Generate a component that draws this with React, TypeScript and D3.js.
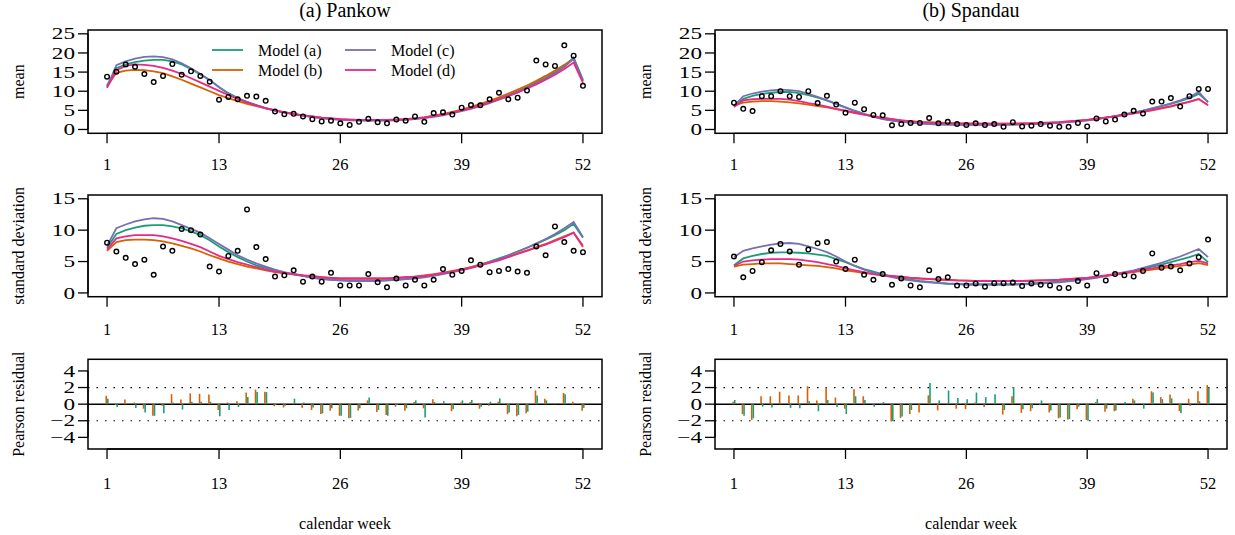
import React from 'react';
import * as d3 from 'd3';

// calendar weeks 1..52 and axis labels
const weeks = d3.range(1, 53);
const weekTicks = [1, 13, 26, 39, 52];
const meanTicks = [0, 5, 10, 15, 20, 25];
const sdTicks = [0, 5, 10, 15];
const resTicks = [-4, -2, 0, 2, 4];
const modelNames = ['Model (a)', 'Model (b)', 'Model (c)', 'Model (d)'];
const modelColors = ['#1B9E77', '#D95F02', '#7570B3', '#E7298A'];

// (a) Pankow
const pankowMeanObs = [13.8, 15.1, 17.0, 16.4, 14.5, 12.4, 14.0, 17.1, 14.3, 15.2, 14.0, 12.5,
  7.8, 8.5, 7.9, 8.8, 8.6, 7.5, 4.7, 4.0, 4.1, 3.4, 2.7, 2.1,
  2.3, 1.6, 1.2, 2.0, 2.8, 1.9, 1.6, 2.6, 2.3, 3.4, 2.0, 4.3,
  4.5, 3.9, 5.7, 6.4, 6.3, 7.9, 9.6, 7.9, 8.3, 10.2, 18.0, 17.0,
  16.6, 22.0, 19.3, 11.4];
const pankowMeanA = [11.5, 16.0, 17.0, 17.6, 18.0, 18.2, 18.2, 17.8, 17.0, 15.8, 14.4, 12.9,
  11.1, 9.5, 8.2, 7.2, 6.4, 5.6, 5.0, 4.5, 4.0, 3.6, 3.3, 3.0,
  2.8, 2.6, 2.5, 2.4, 2.4, 2.4, 2.4, 2.5, 2.6, 2.8, 3.1, 3.5,
  3.9, 4.4, 5.0, 5.7, 6.4, 7.2, 8.1, 9.0, 10.0, 11.1, 12.3, 13.6,
  15.0, 16.6, 18.8, 13.0];
const pankowMeanB = [11.3, 14.8, 15.4, 15.6, 15.5, 15.2, 14.7, 13.9, 13.0, 12.0, 11.0, 10.0,
  9.0, 8.2, 7.4, 6.7, 6.1, 5.5, 5.0, 4.5, 4.1, 3.7, 3.4, 3.1,
  2.9, 2.7, 2.6, 2.5, 2.5, 2.5, 2.5, 2.6, 2.7, 2.9, 3.2, 3.6,
  4.1, 4.6, 5.2, 5.9, 6.7, 7.5, 8.4, 9.4, 10.4, 11.5, 12.7, 14.0,
  15.4, 16.9, 18.4, 12.6];
const pankowMeanC = [11.0, 16.8, 17.8, 18.5, 19.0, 19.1, 18.9, 18.3, 17.3, 16.0, 14.5, 12.9,
  11.0, 9.4, 8.1, 7.1, 6.3, 5.5, 4.9, 4.4, 4.0, 3.6, 3.2, 2.9,
  2.7, 2.5, 2.4, 2.3, 2.3, 2.3, 2.3, 2.4, 2.5, 2.7, 3.0, 3.3,
  3.7, 4.2, 4.8, 5.4, 6.1, 6.9, 7.8, 8.7, 9.7, 10.8, 12.0, 13.3,
  14.7, 16.3, 18.5, 12.8];
const pankowMeanD = [10.9, 15.5, 16.6, 17.0, 16.9, 16.6, 16.1, 15.4, 14.5, 13.4, 12.3, 11.2,
  10.1, 9.0, 8.0, 7.1, 6.3, 5.6, 5.0, 4.5, 4.1, 3.7, 3.4, 3.1,
  2.9, 2.7, 2.6, 2.5, 2.5, 2.5, 2.5, 2.6, 2.7, 2.9, 3.1, 3.5,
  3.9, 4.4, 5.0, 5.6, 6.3, 7.1, 7.9, 8.8, 9.7, 10.7, 11.8, 13.0,
  14.3, 15.8, 17.5, 12.2];
const pankowSdObs = [8.0, 6.6, 5.6, 4.6, 5.3, 2.9, 7.4, 6.7, 10.2, 10.0, 9.3, 4.2,
  3.4, 5.9, 6.7, 13.3, 7.3, 5.4, 2.6, 2.8, 3.6, 1.8, 2.6, 1.8,
  3.2, 1.2, 1.2, 1.2, 3.0, 1.7, 0.9, 2.3, 1.2, 2.1, 1.2, 2.1,
  3.8, 2.9, 3.5, 5.2, 4.5, 3.3, 3.5, 3.8, 3.4, 3.2, 7.4, 6.0,
  10.6, 8.1, 6.7, 6.5];
const pankowSdA = [7.2, 9.4, 10.0, 10.4, 10.7, 10.8, 10.8, 10.6, 10.3, 9.8, 9.2, 8.4,
  7.4, 6.5, 5.7, 5.0, 4.4, 4.0, 3.6, 3.2, 2.9, 2.7, 2.4, 2.3,
  2.1, 2.0, 2.0, 2.0, 2.0, 2.0, 2.0, 2.1, 2.2, 2.4, 2.6, 2.8,
  3.1, 3.4, 3.7, 4.1, 4.5, 5.0, 5.5, 6.0, 6.6, 7.2, 7.8, 8.5,
  9.2, 10.0, 11.0, 8.8];
const pankowSdB = [6.7, 8.1, 8.4, 8.5, 8.5, 8.4, 8.2, 7.9, 7.5, 7.1, 6.6, 6.0,
  5.5, 5.0, 4.6, 4.2, 3.9, 3.6, 3.3, 3.1, 3.0, 2.8, 2.6, 2.5,
  2.4, 2.3, 2.3, 2.3, 2.3, 2.3, 2.3, 2.4, 2.5, 2.6, 2.8, 3.0,
  3.2, 3.5, 3.8, 4.1, 4.5, 4.9, 5.3, 5.8, 6.3, 6.8, 7.3, 7.8,
  8.4, 9.0, 9.6, 7.3];
const pankowSdC = [7.5, 10.3, 10.9, 11.4, 11.7, 11.9, 11.8, 11.4, 10.8, 10.2, 9.6, 8.7,
  7.8, 6.9, 6.0, 5.3, 4.7, 4.2, 3.7, 3.3, 3.0, 2.7, 2.4, 2.2,
  2.1, 2.0, 1.9, 1.9, 1.9, 1.9, 2.0, 2.1, 2.2, 2.3, 2.5, 2.7,
  3.0, 3.3, 3.6, 4.0, 4.4, 4.9, 5.4, 6.0, 6.6, 7.2, 7.9, 8.6,
  9.4, 10.3, 11.3, 8.9];
const pankowSdD = [6.9, 8.7, 9.0, 9.2, 9.2, 9.2, 9.0, 8.7, 8.3, 7.8, 7.3, 6.6,
  5.9, 5.4, 4.9, 4.5, 4.1, 3.7, 3.4, 3.2, 3.0, 2.8, 2.7, 2.5,
  2.4, 2.3, 2.3, 2.3, 2.3, 2.3, 2.3, 2.4, 2.5, 2.6, 2.7, 2.9,
  3.2, 3.4, 3.7, 4.0, 4.4, 4.8, 5.2, 5.7, 6.2, 6.7, 7.2, 7.7,
  8.3, 8.9, 9.6, 7.5];
const pankowResA = [0.65, -0.35, 0.05, -0.45, -1.0, -1.4, -1.1, 0.2, -0.65, 0.3, 0.3, 0.3,
  -1.45, -0.7, -0.35, 0.85, 1.45, 1.45, -0.1, -0.2, 0.65, 0.2, -0.4, -1.1,
  -0.5, -1.4, -1.65, -0.5, 0.8, -0.7, -1.4, -0.1, -0.5, 0.45, -1.6, 0.25,
  0.35, -0.6, 0.45, 0.5, -0.3, 0.3, 0.7, -1.0, -1.3, -0.9, 1.05, 0.45,
  0.05, 1.2, 0.05, -0.45];
const pankowResB = [1.0, -0.1, 0.55, 0.2, -0.55, -1.4, -0.2, 1.2, 0.55, 1.3, 1.25, 1.15,
  -0.7, 0.2, 0.35, 1.4, 1.75, 1.5, -0.25, -0.4, 0.1, -0.45, -0.7, -1.2,
  -0.8, -1.4, -1.7, -0.75, 0.45, -0.95, -1.3, -0.3, -0.8, 0.25, -0.5, 0.6,
  0.15, -0.85, 0.2, 0.25, -0.55, -0.2, 0.3, -1.2, -1.45, -1.1, 1.65, 0.65,
  0.1, 1.35, 0.3, -0.8];

// (b) Spandau
const spandauMeanObs = [7.0, 5.4, 4.8, 8.7, 8.7, 10.0, 8.7, 8.5, 10.0, 6.9, 8.8, 6.5,
  4.4, 7.0, 5.3, 3.8, 3.7, 1.1, 1.4, 1.7, 1.7, 3.0, 1.6, 2.0,
  1.4, 1.2, 1.6, 1.2, 1.4, 0.7, 1.9, 0.8, 1.0, 1.4, 1.0, 0.7,
  0.7, 1.7, 0.8, 2.9, 2.1, 2.6, 3.9, 4.9, 4.2, 7.3, 7.3, 8.2,
  6.0, 8.7, 10.6, 10.6];
const spandauMeanA = [6.0, 8.0, 8.8, 9.3, 9.6, 9.8, 9.8, 9.5, 9.0, 8.3, 7.6, 6.7,
  5.8, 4.9, 4.1, 3.4, 2.8, 2.4, 2.1, 1.8, 1.6, 1.5, 1.4, 1.3,
  1.3, 1.3, 1.3, 1.3, 1.3, 1.3, 1.3, 1.4, 1.4, 1.5, 1.6, 1.8,
  2.0, 2.2, 2.4, 2.8, 3.1, 3.5, 4.0, 4.4, 4.9, 5.5, 6.1, 6.7,
  7.4, 8.2, 9.3, 7.2];
const spandauMeanB = [6.2, 7.0, 7.3, 7.4, 7.4, 7.3, 7.1, 6.8, 6.5, 6.1, 5.8, 5.3,
  4.8, 4.3, 3.9, 3.5, 3.1, 2.7, 2.4, 2.2, 2.0, 1.9, 1.8, 1.7,
  1.6, 1.6, 1.5, 1.5, 1.5, 1.5, 1.5, 1.6, 1.6, 1.7, 1.8, 1.9,
  2.1, 2.3, 2.5, 2.8, 3.1, 3.4, 3.8, 4.2, 4.6, 5.0, 5.5, 6.0,
  6.6, 7.2, 7.9, 6.4];
const spandauMeanC = [6.2, 8.7, 9.4, 9.9, 10.2, 10.4, 10.3, 10.0, 9.3, 8.5, 7.6, 6.7,
  5.7, 4.8, 4.0, 3.3, 2.7, 2.3, 2.0, 1.8, 1.6, 1.4, 1.3, 1.3,
  1.2, 1.2, 1.2, 1.2, 1.2, 1.2, 1.3, 1.3, 1.4, 1.5, 1.6, 1.7,
  1.9, 2.1, 2.4, 2.7, 3.1, 3.5, 3.9, 4.4, 4.9, 5.5, 6.1, 6.8,
  7.6, 8.5, 9.8, 7.1];
const spandauMeanD = [5.9, 7.6, 7.9, 8.0, 8.0, 8.0, 7.8, 7.4, 6.9, 6.5, 6.0, 5.4,
  4.9, 4.4, 3.9, 3.4, 3.0, 2.7, 2.4, 2.1, 1.9, 1.8, 1.7, 1.6,
  1.6, 1.5, 1.5, 1.5, 1.5, 1.5, 1.5, 1.6, 1.6, 1.7, 1.8, 1.9,
  2.1, 2.3, 2.5, 2.8, 3.1, 3.4, 3.8, 4.2, 4.6, 5.1, 5.6, 6.1,
  6.7, 7.3, 8.0, 6.3];
const spandauSdObs = [5.8, 2.5, 3.5, 4.9, 6.8, 7.8, 6.6, 4.5, 6.9, 7.9, 8.1, 5.0,
  3.8, 5.3, 2.9, 2.1, 3.0, 1.3, 2.3, 1.2, 0.9, 3.6, 2.2, 2.5,
  1.2, 1.2, 1.5, 1.0, 1.55, 1.55, 1.65, 1.1, 1.5, 1.3, 1.2, 0.8,
  0.8, 1.9, 1.2, 3.15, 2.0, 3.0, 2.8, 2.6, 3.5, 6.3, 4.0, 4.2,
  3.6, 4.7, 5.7, 8.5];
const spandauSdA = [4.4, 5.5, 5.9, 6.2, 6.4, 6.45, 6.45, 6.4, 6.3, 6.1, 5.9, 5.4,
  4.9, 4.3, 3.8, 3.4, 3.0, 2.6, 2.3, 2.1, 1.9, 1.75, 1.6, 1.5,
  1.45, 1.4, 1.4, 1.4, 1.4, 1.4, 1.4, 1.45, 1.5, 1.6, 1.7, 1.8,
  1.95, 2.1, 2.3, 2.5, 2.7, 3.0, 3.2, 3.5, 3.8, 4.2, 4.5, 4.9,
  5.3, 5.7, 6.2, 4.9];
const spandauSdB = [4.2, 4.5, 4.6, 4.7, 4.7, 4.7, 4.6, 4.5, 4.4, 4.3, 4.1, 3.9,
  3.6, 3.4, 3.15, 3.0, 2.8, 2.65, 2.5, 2.4, 2.3, 2.2, 2.1, 2.05,
  2.0, 1.95, 1.9, 1.9, 1.9, 1.9, 1.9, 1.9, 1.95, 2.0, 2.05, 2.1,
  2.2, 2.3, 2.4, 2.55, 2.7, 2.9, 3.1, 3.3, 3.5, 3.7, 3.9, 4.1,
  4.3, 4.5, 4.75, 4.45];
const spandauSdC = [5.7, 6.7, 7.1, 7.4, 7.7, 7.9, 7.95, 7.8, 7.4, 7.0, 6.5, 5.8,
  5.0, 4.3, 3.7, 3.2, 2.8, 2.5, 2.2, 2.0, 1.8, 1.7, 1.55, 1.45,
  1.4, 1.3, 1.3, 1.3, 1.3, 1.3, 1.3, 1.35, 1.4, 1.5, 1.6, 1.7,
  1.85, 2.0, 2.2, 2.4, 2.7, 3.0, 3.3, 3.6, 4.0, 4.4, 4.8, 5.3,
  5.8, 6.4, 7.0, 5.7];
const spandauSdD = [4.3, 5.0, 5.2, 5.3, 5.4, 5.4, 5.4, 5.3, 5.1, 4.9, 4.6, 4.3,
  3.9, 3.6, 3.3, 3.0, 2.8, 2.7, 2.6, 2.4, 2.3, 2.25, 2.2, 2.1,
  2.0, 1.95, 1.9, 1.9, 1.9, 1.9, 1.9, 1.9, 1.95, 2.0, 2.05, 2.1,
  2.2, 2.3, 2.4, 2.6, 2.8, 3.0, 3.2, 3.4, 3.7, 3.9, 4.2, 4.4,
  4.6, 4.9, 5.1, 4.7];
const spandauResA = [0.5, -1.4, -1.7, -0.3, -0.4, 0.1, -0.45, -0.5, 0.35, -0.85, 0.5, -0.35,
  -1.2, 0.95, 0.5, -0.3, 0.25, -2.05, -1.5, -0.7, 0.05, 2.55, 0.45, 1.65,
  0.75, 0.6, 1.4, 0.85, 1.2, -0.7, 2.05, -0.6, -0.5, 0.45, -0.75, -1.6,
  -1.8, -0.3, -2.0, 0.6, -0.55, -0.75, 0.25, 0.45, -0.55, 1.4, 0.6, 0.7,
  -1.1, -0.2, 0.35, 2.0];
const spandauResB = [0.3, -1.2, -1.9, 0.95, 0.95, 1.5, 1.05, 1.05, 2.15, 0.45, 2.0, 0.8,
  -0.55, 1.8, 0.95, -0.05, 0.1, -2.1, -1.65, -1.2, -1.0, 1.05, -0.75, 0.1,
  -0.55, -0.6, 0.2, -0.35, 0.1, -1.25, 0.95, -1.05, -0.85, -0.1, -1.0, -1.7,
  -1.85, -0.6, -1.9, 0.25, -0.9, -0.85, 0.05, 0.65, 0.0, 1.55, 0.85, 1.15,
  -0.85, 0.65, 1.55, 2.3];

const FONT = '"Liberation Serif", "Times New Roman", serif';
const W = 1235;
const H = 535;

// rows: top of box, bottom of box
const rows = {
  mean: { top: 30, bottom: 133.3 },
  sd: { top: 195, bottom: 296.7 },
  res: { top: 359.3, bottom: 449 },
};

const fmt = (v: number) => (v < 0 ? '\u2212' + Math.abs(v) : String(v));

interface PanelProps {
  left: number;
  right: number;
  title: string;
  meanObs: number[];
  meanModels: number[][];
  sdObs: number[];
  sdModels: number[][];
  resA: number[];
  resB: number[];
  legend?: boolean;
}

const YAxis: React.FC<{ x: number; y: d3.ScaleLinear<number, number>; ticks: number[]; label: string }> = ({ x, y, ticks, label }) => {
  const [r0, r1] = y.range();
  const from = y(ticks[0]);
  const to = y(ticks[ticks.length - 1]);
  return (
    <g>
      <line x1={x} x2={x} y1={from} y2={to} stroke="#000" strokeWidth={1.3} />
      {ticks.map(t => (
        <g key={t}>
          <line x1={x - 10} x2={x} y1={y(t)} y2={y(t)} stroke="#000" strokeWidth={1.3} />
          {/* tick labels in the original are drawn wide */}
          <text transform={`translate(${x - 13},${y(t)}) scale(1.45,1)`} textAnchor="end" dominantBaseline="central" fontSize={16}>{fmt(t)}</text>
        </g>
      ))}
      <text transform={`translate(${x - 70},${(r0 + r1) / 2}) rotate(-90)`} textAnchor="middle" dominantBaseline="central" fontSize={16}>{label}</text>
    </g>
  );
};

const XAxis: React.FC<{ x: d3.ScaleLinear<number, number>; y: number; labelGap: number }> = ({ x, y, labelGap }) => (
  <g>
    <line x1={x(weekTicks[0])} x2={x(weekTicks[weekTicks.length - 1])} y1={y} y2={y} stroke="#000" strokeWidth={1.3} />
    {weekTicks.map(t => (
      <g key={t}>
        <line x1={x(t)} x2={x(t)} y1={y} y2={y + 10} stroke="#000" strokeWidth={1.3} />
        <text x={x(t)} y={y + labelGap} textAnchor="middle" fontSize={16.5}>{t}</text>
      </g>
    ))}
  </g>
);

const Panel: React.FC<PanelProps> = ({ left, right, title, meanObs, meanModels, sdObs, sdModels, resA, resB, legend }) => {
  const x = d3.scaleLinear().domain([1 - 51 * 0.04, 52 + 51 * 0.04]).range([left, right]);
  const yMean = d3.scaleLinear().domain([-1, 26]).range([rows.mean.bottom, rows.mean.top]);
  const ySd = d3.scaleLinear().domain([-0.6, 15.6]).range([rows.sd.bottom, rows.sd.top]);
  const yRes = d3.scaleLinear().domain([-5.4, 5.4]).range([rows.res.bottom, rows.res.top]);

  const lineOf = (y: d3.ScaleLinear<number, number>) =>
    d3.line<number>().x((_, i) => x(weeks[i])).y(v => y(v));

  const box = (r: { top: number; bottom: number }) => (
    <rect x={left} y={r.top} width={right - left} height={r.bottom - r.top} fill="none" stroke="#000" strokeWidth={1.5} />
  );

  const cx = (left + right) / 2;

  return (
    <g>
      <text x={cx} y={17} textAnchor="middle" fontSize={20}>{title}</text>

      {/* mean */}
      {meanModels.map((m, k) => (
        <path key={k} d={lineOf(yMean)(m) || ''} fill="none" stroke={modelColors[k]} strokeWidth={1.8} />
      ))}
      {meanObs.map((v, i) => (
        <circle key={i} cx={x(weeks[i])} cy={yMean(v)} r={2.3} fill="none" stroke="#000" strokeWidth={1.4} />
      ))}
      {box(rows.mean)}
      <YAxis x={left} y={yMean} ticks={meanTicks} label="mean" />
      <XAxis x={x} y={rows.mean.bottom} labelGap={37} />
      {legend && (
        <g fontSize={16}>
          {modelNames.map((name, k) => {
            const col = Math.floor(k / 2);
            const row = k % 2;
            const lx = left + 124 + col * 133;
            const ly = 50 + row * 20;
            return (
              <g key={name}>
                <line x1={lx} x2={lx + 31} y1={ly} y2={ly} stroke={modelColors[k]} strokeWidth={1.8} />
                <text x={lx + 46} y={ly} dominantBaseline="central">{name}</text>
              </g>
            );
          })}
        </g>
      )}

      {/* standard deviation */}
      {sdModels.map((m, k) => (
        <path key={k} d={lineOf(ySd)(m) || ''} fill="none" stroke={modelColors[k]} strokeWidth={1.8} />
      ))}
      {sdObs.map((v, i) => (
        <circle key={i} cx={x(weeks[i])} cy={ySd(v)} r={2.3} fill="none" stroke="#000" strokeWidth={1.4} />
      ))}
      {box(rows.sd)}
      <YAxis x={left} y={ySd} ticks={sdTicks} label="standard deviation" />
      <XAxis x={x} y={rows.sd.bottom} labelGap={38} />

      {/* Pearson residuals */}
      {[-2, 2].map(v => (
        <line key={v} x1={left} x2={right} y1={yRes(v)} y2={yRes(v)} stroke="#000" strokeWidth={1.2} strokeDasharray="1.5,7" />
      ))}
      <line x1={left} x2={right} y1={yRes(0)} y2={yRes(0)} stroke="#000" strokeWidth={1.5} />
      {weeks.map((w, i) => (
        <g key={w}>
          <line x1={x(w) - 0.8} x2={x(w) - 0.8} y1={yRes(0)} y2={yRes(resB[i])} stroke={modelColors[1]} strokeWidth={1.6} />
          <line x1={x(w) + 0.8} x2={x(w) + 0.8} y1={yRes(0)} y2={yRes(resA[i])} stroke={modelColors[0]} strokeWidth={1.6} />
        </g>
      ))}
      {box(rows.res)}
      <YAxis x={left} y={yRes} ticks={resTicks} label="Pearson residual" />
      <XAxis x={x} y={rows.res.bottom} labelGap={40} />

      <text x={cx} y={529} textAnchor="middle" fontSize={16}>calendar week</text>
    </g>
  );
};

export default function App() {
  return (
    <svg width={W} height={H} style={{ position: 'absolute', left: 0, top: 0, background: '#fff' }} fontFamily={FONT}>
      <rect width={W} height={H} fill="#fff" />
      <Panel
        left={88}
        right={602}
        title="(a) Pankow"
        meanObs={pankowMeanObs}
        meanModels={[pankowMeanA, pankowMeanB, pankowMeanC, pankowMeanD]}
        sdObs={pankowSdObs}
        sdModels={[pankowSdA, pankowSdB, pankowSdC, pankowSdD]}
        resA={pankowResA}
        resB={pankowResB}
        legend
      />
      <Panel
        left={715}
        right={1227}
        title="(b) Spandau"
        meanObs={spandauMeanObs}
        meanModels={[spandauMeanA, spandauMeanB, spandauMeanC, spandauMeanD]}
        sdObs={spandauSdObs}
        sdModels={[spandauSdA, spandauSdB, spandauSdC, spandauSdD]}
        resA={spandauResA}
        resB={spandauResB}
      />
    </svg>
  );
}
